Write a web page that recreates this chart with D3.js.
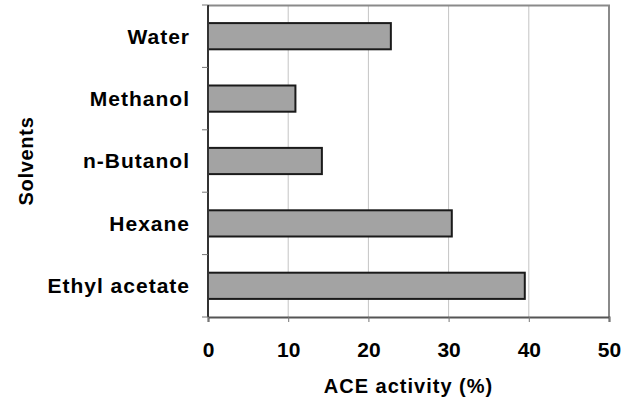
<!DOCTYPE html>
<html lang="en">
<head>
    <meta charset="UTF-8">
    <title>ACE activity by solvent</title>
    <script src="https://d3js.org/d3.v7.min.js"></script>
    <style>
        body { margin: 0; background: #fff; }
        svg { display: block; }
        text { font-family: Arial, "Liberation Sans", sans-serif; font-weight: bold; fill: #000; }
    </style>
</head>
<body>
    <svg width="632" height="404"></svg>
    <script>
        // chart data
        const solvents = ['Water', 'Methanol', 'n-Butanol', 'Hexane', 'Ethyl acetate'];
        const activity = [22.8, 10.9, 14.2, 30.4, 39.5];
        const xTicks = [0, 10, 20, 30, 40, 50];

        const margin = { top: 5, right: 23, bottom: 87, left: 208 };
        const width = 632, height = 404;
        const innerW = width - margin.left - margin.right;
        const innerH = height - margin.top - margin.bottom;

        const svg = d3.select('svg');
        const g = svg.append('g').attr('transform', `translate(${margin.left},${margin.top})`);

        const x = d3.scaleLinear().domain([0, 50]).range([0, innerW]);
        const y = d3.scaleBand().domain(solvents).range([0, innerH]).paddingInner(0.58).paddingOuter(0.29);

        // gridlines
        g.selectAll('.grid')
            .data(xTicks.slice(1, -1))
            .enter().append('line')
            .attr('x1', d => x(d)).attr('x2', d => x(d))
            .attr('y1', 0).attr('y2', innerH)
            .attr('stroke', '#c4c4c4').attr('stroke-width', 1);

        // top and right frame
        g.append('path')
            .attr('d', `M0,0.5H${innerW}V${innerH}`)
            .attr('fill', 'none').attr('stroke', '#8a8a8a').attr('stroke-width', 2);

        // bars
        g.selectAll('rect.bar')
            .data(solvents)
            .enter().append('rect')
            .attr('class', 'bar')
            .attr('x', 0)
            .attr('y', d => y(d))
            .attr('width', (d, i) => x(activity[i]))
            .attr('height', y.bandwidth())
            .attr('fill', '#a3a3a3')
            .attr('stroke', '#1a1a1a')
            .attr('stroke-width', 2);

        // x axis
        const xAxis = g.append('g')
            .attr('transform', `translate(0,${innerH})`)
            .call(d3.axisBottom(x).tickValues(xTicks).tickSize(5).tickPadding(20));
        xAxis.select('.domain').attr('stroke', '#555').attr('stroke-width', 2);
        xAxis.selectAll('.tick line').attr('stroke', '#777');
        xAxis.selectAll('.tick text').style('font-size', '21px').attr('font-family', null);

        // y axis with ticks at category boundaries
        const yAxis = g.append('g');
        yAxis.append('line')
            .attr('x1', 0).attr('x2', 0).attr('y1', 0).attr('y2', innerH)
            .attr('stroke', '#333').attr('stroke-width', 2);
        const step = innerH / solvents.length;
        yAxis.selectAll('.ytick')
            .data(d3.range(solvents.length + 1))
            .enter().append('line')
            .attr('x1', -6).attr('x2', 0)
            .attr('y1', d => d * step).attr('y2', d => d * step)
            .attr('stroke', '#777');
        yAxis.selectAll('.ylabel')
            .data(solvents)
            .enter().append('text')
            .attr('x', -18)
            .attr('y', d => y(d) + y.bandwidth() / 2)
            .attr('dy', '0.35em')
            .attr('text-anchor', 'end')
            .style('font-size', '21px')
            .style('letter-spacing', '1px')
            .text(d => d);

        // axis titles
        svg.append('text')
            .attr('x', margin.left + innerW / 2)
            .attr('y', 393)
            .attr('text-anchor', 'middle')
            .style('font-size', '20px')
            .style('letter-spacing', '1px')
            .text('ACE activity (%)');

        svg.append('text')
            .attr('transform', `translate(33,${margin.top + innerH / 2}) rotate(-90)`)
            .attr('text-anchor', 'middle')
            .style('font-size', '20px')
            .style('letter-spacing', '0.7px')
            .text('Solvents');
    </script>
</body>
</html>
